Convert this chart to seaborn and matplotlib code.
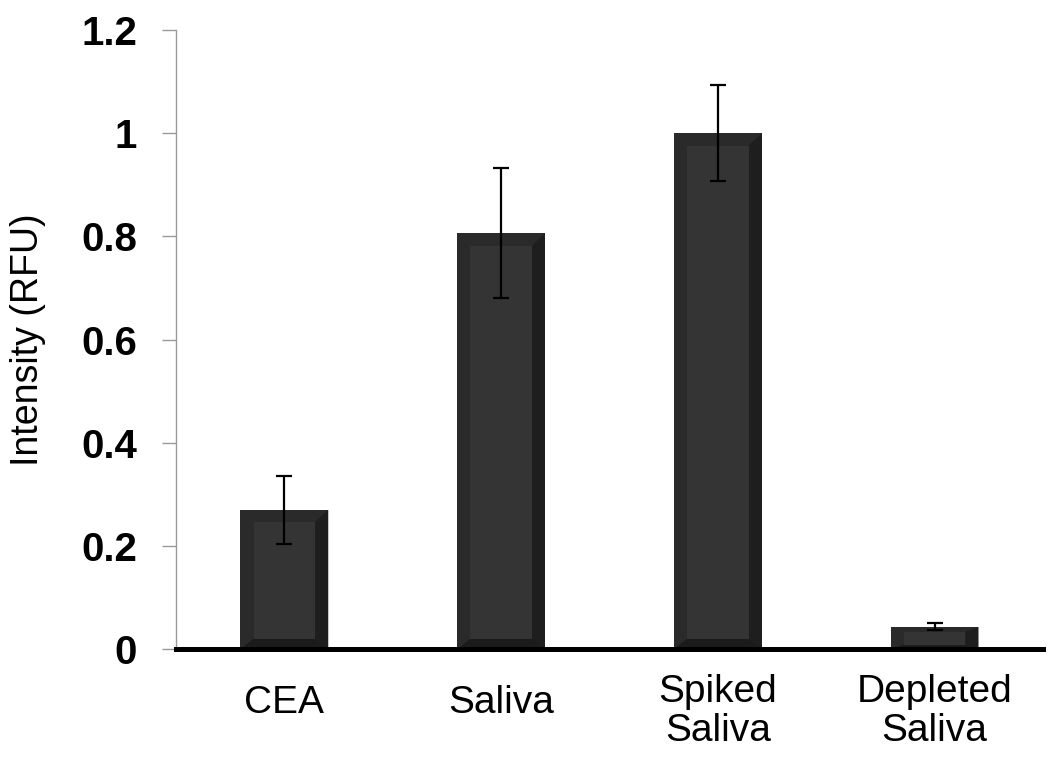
import numpy as np
import pandas as pd
import seaborn as sns
import matplotlib.pyplot as plt
from matplotlib.patches import Polygon, Rectangle
from matplotlib.ticker import FuncFormatter

# data
categories = ['CEA', 'Saliva', 'Spiked\nSaliva', 'Depleted\nSaliva']
values = [0.27, 0.806, 1.0, 0.043]
errors = [0.066, 0.126, 0.093, 0.007]
y_ticks = [0, 0.2, 0.4, 0.6, 0.8, 1.0, 1.2]

df = pd.DataFrame({'sample': categories, 'intensity': values})

sns.set_theme(style='white')
plt.rcParams['font.family'] = ['Liberation Sans', 'DejaVu Sans']

fig = plt.figure(figsize=(10.5, 7.6), dpi=100)
ax = fig.add_axes([0.1676, 0.146, 0.8257, 0.8145])

sns.barplot(data=df, x='sample', y='intensity', color='#2a2a2a',
            saturation=1, width=0.405, linewidth=0, errorbar=None, ax=ax)

# Excel-like bevel on each bar
for p in list(ax.patches):
    x0, w, h = p.get_x(), p.get_width(), p.get_height()
    x1 = x0 + w
    bx = w * 0.15
    by = min(0.024, h * 0.22)
    bb = min(0.02, h * 0.2)
    ax.add_patch(Polygon([(x1, 0), (x1, h), (x1 - bx, h - by), (x1 - bx, bb)],
                         closed=True, facecolor='#1e1e1e', edgecolor='none', zorder=2.1))
    ax.add_patch(Polygon([(x0, 0), (x1, 0), (x1 - bx, bb), (x0 + bx, bb)],
                         closed=True, facecolor='#1b1b1b', edgecolor='none', zorder=2.1))
    ax.add_patch(Rectangle((x0 + bx, bb), w - 2 * bx, h - by - bb,
                           facecolor='#343434', edgecolor='none', zorder=2.2))

ax.errorbar(x=np.arange(len(categories)), y=values, yerr=errors, fmt='none',
            ecolor='black', elinewidth=1.6, capsize=5.5, capthick=1.6, zorder=4)

ax.set_xlim(-0.5, 3.5)
ax.set_ylim(0, 1.2)
ax.set_yticks(y_ticks)
ax.yaxis.set_major_formatter(FuncFormatter(lambda v, _: f'{v:g}'))

ax.tick_params(axis='y', labelsize=29, colors='#999999', labelcolor='black',
               length=10, width=1, pad=18, direction='out', left=True)
ax.tick_params(axis='x', labelsize=28, labelcolor='black', length=0, pad=18)
for lab in ax.get_yticklabels():
    lab.set_fontweight('bold')

# single-line category labels sit a little lower, as in the original
for tick, name in zip(ax.xaxis.get_major_ticks(), categories):
    if '\n' not in name:
        tick.set_pad(26)
for lab in ax.get_xticklabels():
    lab.set_linespacing(1.1)

ax.set_xlabel('')
ax.set_ylabel('Intensity (RFU)', fontsize=27, color='black', va='center')
ax.yaxis.set_label_coords(-0.1707, 0.5)

for side in ['top', 'right']:
    ax.spines[side].set_visible(False)
ax.spines['left'].set_color('#999999')
ax.spines['left'].set_linewidth(1)
ax.spines['bottom'].set_color('black')
ax.spines['bottom'].set_linewidth(3.6)
ax.spines['bottom'].set_zorder(5)

fig.savefig('out.png', dpi=100)
plt.close(fig)
